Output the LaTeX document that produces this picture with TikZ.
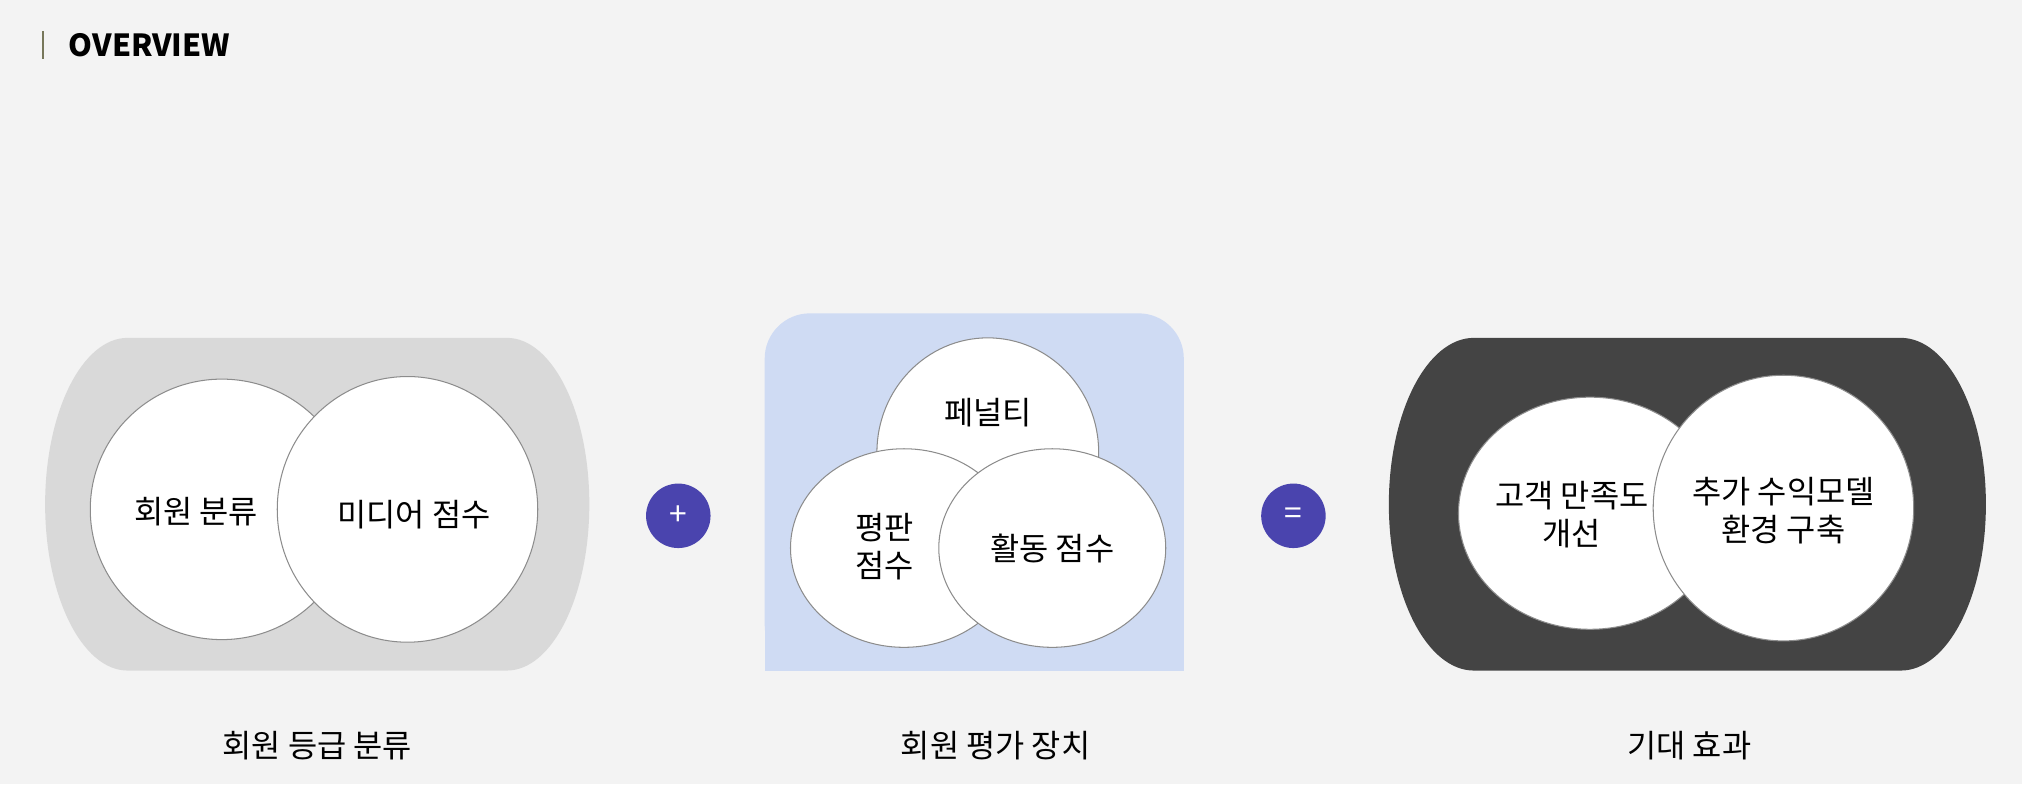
\documentclass[tikz,border=0pt]{standalone}
\usepackage{fontspec}
\setmainfont{Noto Sans CJK KR}
\usetikzlibrary{shapes.geometric}
\definecolor{pagebg}{HTML}{F3F3F3}
\definecolor{panelgray}{HTML}{D9D9D9}
\definecolor{panelblue}{HTML}{CFDBF3}
\definecolor{paneldark}{HTML}{444444}
\definecolor{opviolet}{HTML}{4A44AE}
\definecolor{barolive}{HTML}{77775A}

\begin{document}
\begin{tikzpicture}[
    x=0.5pt, y=-0.5pt,
    every node/.style={font=\fontsize{12.3}{15}\selectfont},
    venn/.style={
        ellipse,
        draw=gray!90,
        line width=0.4pt,
        fill=white,
        inner sep=0pt
    },
    txt/.style={align=center, inner sep=0pt},
    op/.style={circle, fill=opviolet, text=white, minimum size=25pt, inner sep=0pt},
    caption/.style={inner sep=0pt}
]

\fill[pagebg] (0,0) rectangle (1568,608);
\useasboundingbox (0,0) rectangle (1568,608);

\draw[barolive, line width=0.8pt] (33,24) -- (33,46);
\node[anchor=west, inner sep=0pt, font=\fontsize{11.8}{14}\selectfont\bfseries] (title) at (53,35) {OVERVIEW};

\fill[panelgray] (99,262) -- (393,262)
    arc[start angle=-90, end angle=90, x radius=64, y radius=129] -- (99,520)
    arc[start angle=90, end angle=270, x radius=64, y radius=129] -- cycle;

\node[venn, minimum width=102pt, minimum height=101pt] (cls) at (172,395) {};
\node[venn, minimum width=101pt, minimum height=103pt] (media) at (316,395) {};
\node[txt] (clstext) at (152,397) {회원 분류};
\node[txt] (mediatext) at (321,399) {미디어 점수};

\node[op] (plus) at (526,400) {+};

\fill[panelblue, rounded corners=17.5pt] (593,243) rectangle (918,520);
\fill[panelblue] (593,380) rectangle (918,520);

\node[venn, minimum width=86pt, minimum height=89pt] (penalty) at (766,351) {};
\node[venn, minimum width=88pt, minimum height=77pt] (repute) at (701,425) {};
\node[venn, minimum width=88pt, minimum height=77pt] (activity) at (816,425) {};
\node[txt] (penaltytext) at (766,320) {페널티};
\node[txt] (reputetext) at (686,424) {평판\\점수};
\node[txt] (activitytext) at (816,425) {활동 점수};

\node[op] (equals) at (1003,400) {=};

\fill[paneldark] (1143,262) -- (1474,262)
    arc[start angle=-90, end angle=90, x radius=66, y radius=129] -- (1143,520)
    arc[start angle=90, end angle=270, x radius=66, y radius=129] -- cycle;

\node[venn, minimum width=102pt, minimum height=90pt] (satisfy) at (1233,398) {};
\node[venn, minimum width=101pt, minimum height=103pt] (revenue) at (1383,394) {};
\node[txt] (satisfytext) at (1219,399) {고객 만족도\\개선};
\node[txt] (revenuetext) at (1383,396) {추가 수익모델\\환경 구축};

\node[caption] (gradecap) at (246,578) {회원 등급 분류};
\node[caption] (evalcap) at (772,578) {회원 평가 장치};
\node[caption] (effectcap) at (1310,578) {기대 효과};

\end{tikzpicture}
\end{document}
